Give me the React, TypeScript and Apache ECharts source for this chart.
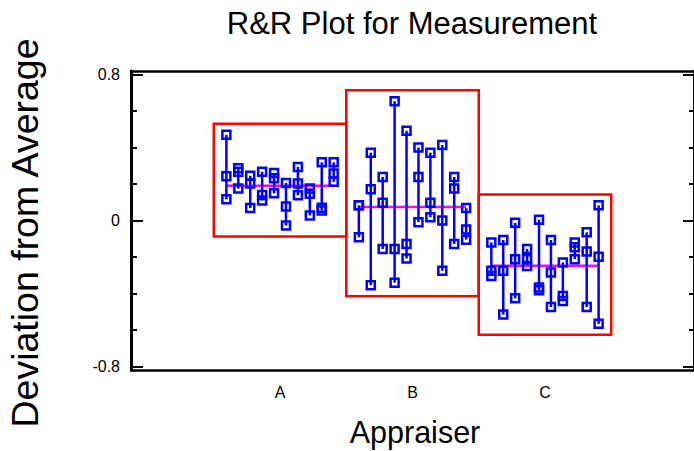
import React, { useEffect, useRef } from "react";
import * as echarts from "echarts";

const appraisers = ["A", "B", "C"];

// Each inner array: the trials of one part for that appraiser (deviation from average)
const appraiserA = [
  [0.47, 0.243, 0.116],
  [0.286, 0.267, 0.175],
  [0.245, 0.203, 0.068],
  [0.267, 0.14, 0.11],
  [0.26, 0.232, 0.149],
  [0.206, 0.077, -0.028],
  [0.294, 0.203, 0.138],
  [0.175, 0.147, 0.028],
  [0.319, 0.07, 0.055],
  [0.319, 0.258, 0.212],
];

const appraiserB = [
  [0.083, 0.083, -0.092],
  [0.372, 0.171, -0.355],
  [0.239, 0.098, -0.156],
  [0.654, -0.156, -0.341],
  [0.492, -0.129, -0.208],
  [0.4, 0.239, -0.009],
  [0.372, 0.098, 0.018],
  [0.414, 0, -0.276],
  [0.239, 0.175, -0.129],
  [0.068, -0.05, -0.105],
];

const appraiserC = [
  [-0.12, -0.276, -0.304],
  [-0.107, -0.276, -0.516],
  [-0.013, -0.212, -0.427],
  [-0.156, -0.212, -0.249],
  [0.004, -0.368, -0.383],
  [-0.107, -0.285, -0.475],
  [-0.23, -0.414, -0.442],
  [-0.12, -0.147, -0.212],
  [-0.065, -0.17, -0.475],
  [0.083, -0.199, -0.567],
];

const yMajorTicks = [-0.8, 0, 0.8];
const yMinorTicks = [-0.6, -0.4, -0.2, 0.2, 0.4, 0.6];

const FONT = "Liberation Sans, Arial, sans-serif";
const PART_STEP = 0.09;
const BOX_PAD = 0.06;

export default function App() {
  const ref = useRef<HTMLDivElement>(null);

  useEffect(() => {
    if (!ref.current) return;
    const chart = echarts.init(ref.current, null, { renderer: "svg" });

    const groups = [appraiserA, appraiserB, appraiserC];
    const points: number[][] = [];
    const ranges: number[][] = [];
    const means: number[][] = [];
    const boxes: number[][] = [];

    groups.forEach((parts, gi) => {
      const center = gi + 1;
      const n = parts.length;
      let sum = 0;
      let count = 0;
      let gmin = Infinity;
      let gmax = -Infinity;
      parts.forEach((trials, pi) => {
        const x = center + (pi - (n - 1) / 2) * PART_STEP;
        const mn = Math.min(...trials);
        const mx = Math.max(...trials);
        gmin = Math.min(gmin, mn);
        gmax = Math.max(gmax, mx);
        ranges.push([x, mn, mx]);
        trials.forEach((v) => {
          points.push([x, v]);
          sum += v;
          count++;
        });
      });
      const x1 = center - ((n - 1) / 2) * PART_STEP;
      const x2 = center + ((n - 1) / 2) * PART_STEP;
      means.push([x1, x2, sum / count]);
      boxes.push([center, gmin - BOX_PAD, gmax + BOX_PAD]);
    });

    const yBase = { type: "value", min: -0.82, max: 0.82, splitLine: { show: false } };

    const option: any = {
      animation: false,
      grid: { left: 131, top: 71, width: 566, height: 299, containLabel: false },
      xAxis: [
        {
          type: "value",
          position: "bottom",
          min: -0.125,
          max: 4.125,
          splitLine: { show: false },
          axisLine: { show: true, onZero: false, lineStyle: { color: "#000", width: 2.5 } },
          axisTick: { show: false },
          axisLabel: {
            customValues: [1, 2, 3],
            formatter: (v: number) => appraisers[Math.round(v) - 1] ?? "",
            fontSize: 16,
            color: "#000",
            fontFamily: FONT,
            margin: 14,
          },
        },
        {
          type: "value",
          position: "top",
          min: -0.125,
          max: 4.125,
          splitLine: { show: false },
          axisLine: { show: true, onZero: false, lineStyle: { color: "#000", width: 2.5 } },
          axisTick: { show: false },
          axisLabel: { show: false },
        },
      ],
      yAxis: [
        {
          ...yBase,
          position: "left",
          axisLine: { show: true, onZero: false, lineStyle: { color: "#000", width: 3 } },
          axisTick: {
            show: true,
            inside: true,
            length: 12,
            customValues: yMajorTicks,
            lineStyle: { color: "#000", width: 2 },
          },
          axisLabel: {
            customValues: yMajorTicks,
            formatter: (v: number) => String(Math.round(v * 10) / 10),
            fontSize: 16,
            color: "#000",
            fontFamily: FONT,
            margin: 11,
          },
        },
        {
          ...yBase,
          position: "left",
          axisLine: { show: false, onZero: false },
          axisTick: {
            show: true,
            inside: true,
            length: 6,
            customValues: yMinorTicks,
            lineStyle: { color: "#000", width: 2 },
          },
          axisLabel: { show: false },
        },
        {
          ...yBase,
          position: "right",
          axisLine: { show: true, onZero: false, lineStyle: { color: "#000", width: 3 } },
          axisTick: {
            show: true,
            inside: true,
            length: 11,
            customValues: yMajorTicks,
            lineStyle: { color: "#000", width: 2 },
          },
          axisLabel: { show: false },
        },
        {
          ...yBase,
          position: "right",
          axisLine: { show: false, onZero: false },
          axisTick: {
            show: true,
            inside: true,
            length: 5,
            customValues: yMinorTicks,
            lineStyle: { color: "#000", width: 2 },
          },
          axisLabel: { show: false },
        },
      ],
      graphic: [
        {
          type: "text",
          x: 412,
          y: 23,
          style: {
            text: "R&R Plot for Measurement",
            fontSize: 31,
            fontFamily: FONT,
            fill: "#000",
            textAlign: "center",
            textVerticalAlign: "middle",
          },
        },
        {
          type: "text",
          x: 415,
          y: 432,
          style: {
            text: "Appraiser",
            fontSize: 30.5,
            fontFamily: FONT,
            fill: "#000",
            textAlign: "center",
            textVerticalAlign: "middle",
          },
        },
        {
          type: "text",
          x: 25,
          y: 233,
          rotation: Math.PI / 2,
          style: {
            text: "Deviation from Average",
            fontSize: 37.5,
            fontFamily: FONT,
            fill: "#000",
            textAlign: "center",
            textVerticalAlign: "middle",
          },
        },
      ],
      series: [
        {
          type: "custom",
          name: "box",
          xAxisIndex: 0,
          yAxisIndex: 0,
          data: boxes,
          clip: false,
          renderItem: (params: any, api: any) => {
            const c = api.value(0);
            const p1 = api.coord([c - 0.5, api.value(2)]);
            const p2 = api.coord([c + 0.5, api.value(1)]);
            return {
              type: "rect",
              shape: { x: p1[0], y: p1[1], width: p2[0] - p1[0], height: p2[1] - p1[1] },
              style: { fill: "none", stroke: "#ff0000", lineWidth: 2.5 },
            };
          },
        },
        {
          type: "custom",
          name: "mean",
          xAxisIndex: 0,
          yAxisIndex: 0,
          data: means,
          renderItem: (params: any, api: any) => {
            const p1 = api.coord([api.value(0), api.value(2)]);
            const p2 = api.coord([api.value(1), api.value(2)]);
            return {
              type: "line",
              shape: { x1: p1[0], y1: p1[1], x2: p2[0], y2: p2[1] },
              style: { stroke: "#ff00ff", lineWidth: 2.5 },
            };
          },
        },
        {
          type: "custom",
          name: "range",
          xAxisIndex: 0,
          yAxisIndex: 0,
          data: ranges,
          renderItem: (params: any, api: any) => {
            const p1 = api.coord([api.value(0), api.value(1)]);
            const p2 = api.coord([api.value(0), api.value(2)]);
            return {
              type: "line",
              shape: { x1: p1[0], y1: p1[1], x2: p2[0], y2: p2[1] },
              style: { stroke: "#0000ff", lineWidth: 2.5 },
            };
          },
        },
        {
          type: "scatter",
          name: "trials",
          xAxisIndex: 0,
          yAxisIndex: 0,
          data: points,
          symbol: "rect",
          symbolSize: 8,
          itemStyle: { color: "rgba(0,0,0,0)", borderColor: "#0000ff", borderWidth: 2.5, opacity: 1 },
        },
      ],
    };

    chart.setOption(option);
    return () => chart.dispose();
  }, []);

  return (
    <div
      ref={ref}
      style={{ position: "fixed", left: 0, top: 0, width: 694, height: 451, background: "#fff" }}
    />
  );
}
